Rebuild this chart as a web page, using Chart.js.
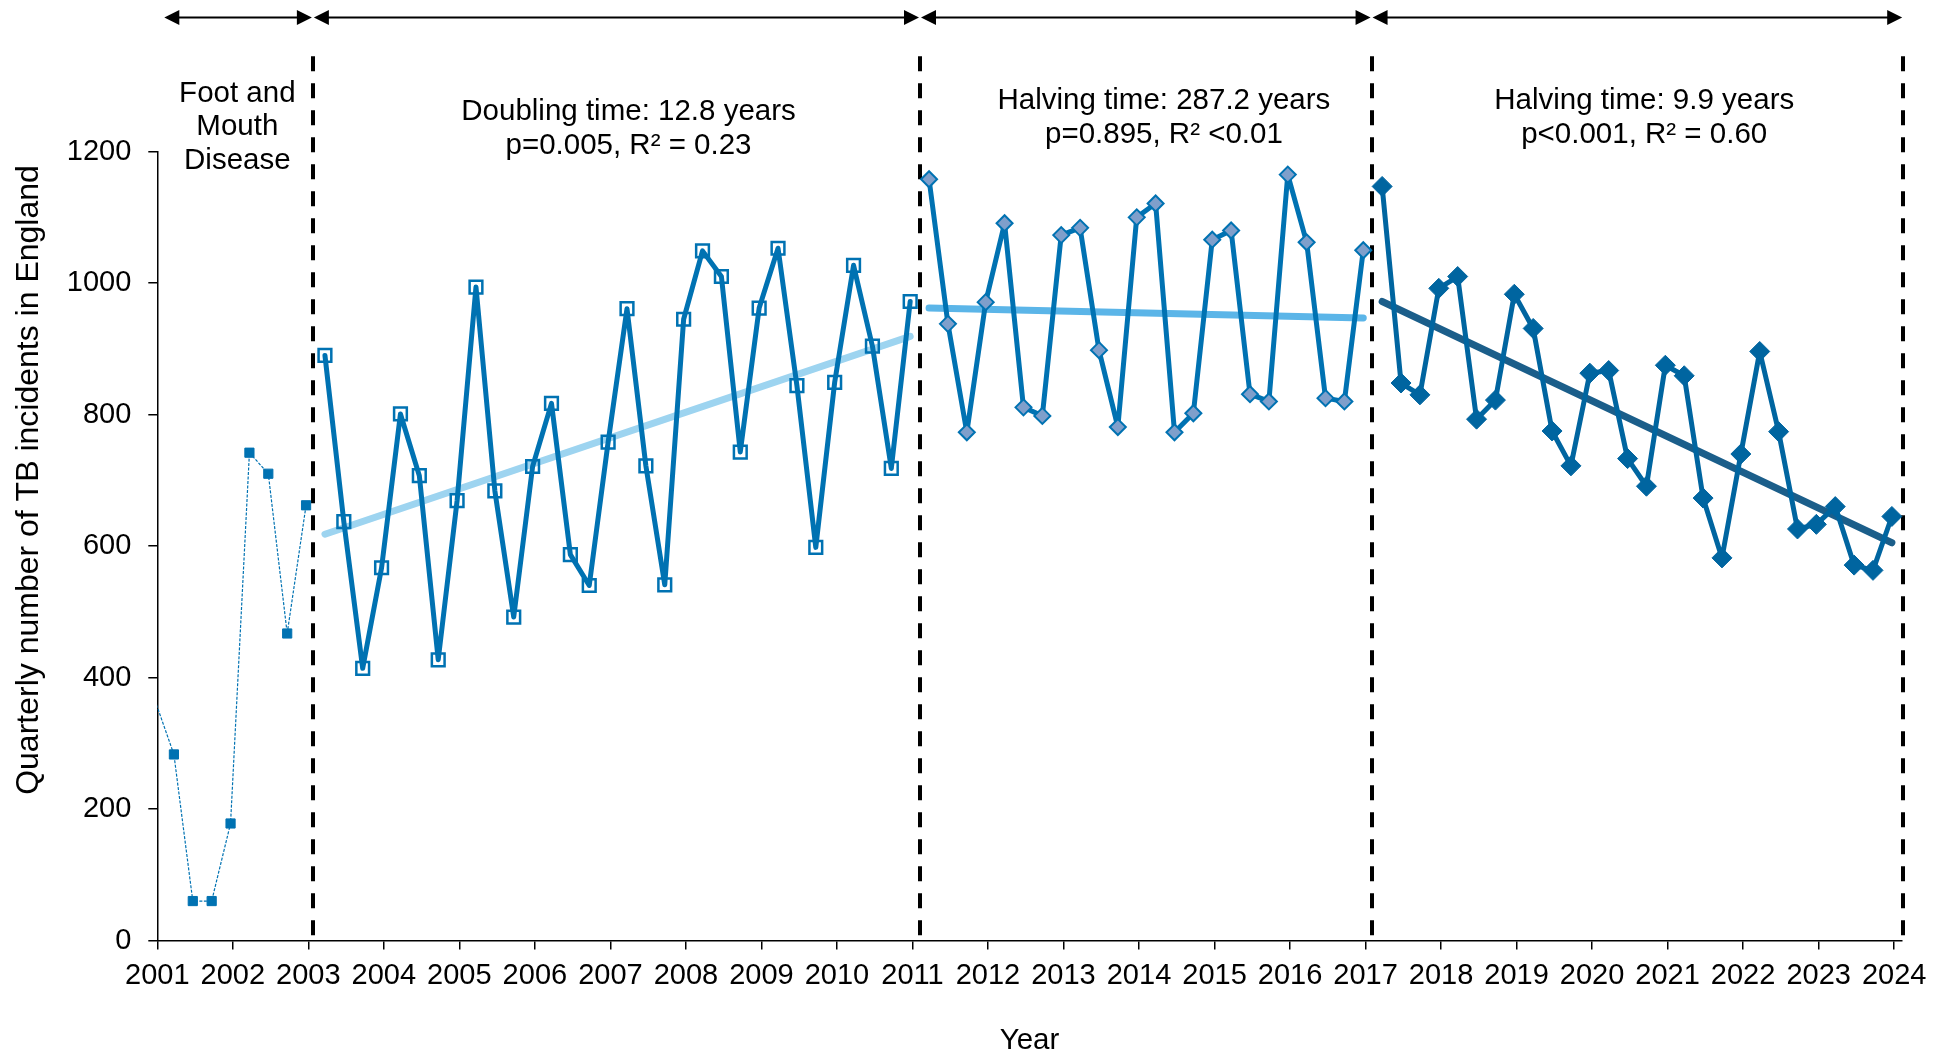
<!DOCTYPE html>
<html>
<head>
<meta charset="utf-8">
<title>Quarterly number of TB incidents in England</title>
<script src="https://cdn.jsdelivr.net/npm/chart.js@4/dist/chart.umd.min.js"></script>
<style>
  html, body { margin: 0; padding: 0; background: #fff; }
  #wrap { width: 1948px; height: 1059px; }
</style>
</head>
<body>
<div id="wrap"><canvas id="grafico" width="1948" height="1059"></canvas></div>
<script>
// eje x: años, eje y: incidentes
const years = [2001, 2002, 2003, 2004, 2005, 2006, 2007, 2008, 2009, 2010, 2011, 2012,
  2013, 2014, 2015, 2016, 2017, 2018, 2019, 2020, 2021, 2022, 2023, 2024];
const yTicks = [0, 200, 400, 600, 800, 1000, 1200];

// valores trimestrales, por periodo
// 2000 T4 - 2002 T4 (fiebre aftosa)
const fmdValues = [365, 283, 60, 60, 178, 742, 710, 467, 662];
// 2003 T1 - 2010 T4
const risingValues = [890, 637, 414, 567, 801, 707, 427, 669, 994, 684, 492, 721,
  817, 587, 540, 758, 961, 722, 541, 945, 1049, 1010, 743, 962, 1053, 844, 598, 849,
  1027, 904, 718, 972];
// 2011 T1 - 2016 T4
const flatValues = [1158, 938, 773, 971, 1091, 811, 798, 1073, 1084, 898, 781, 1100,
  1121, 773, 802, 1066, 1080, 831, 820, 1165, 1062, 825, 820, 1050];
// 2017 T1 - 2023 T4
const fallingValues = [1147, 848, 830, 992, 1010, 793, 822, 983, 931, 775, 722, 863,
  867, 733, 691, 875, 859, 673, 582, 740, 896, 774, 626, 633, 660, 571, 563, 645];

// tendencias (inicio y fin de cada periodo)
const risingTrend = [618, 919];
const flatTrend = [962, 947];
const fallingTrend = [972, 605];

// cortes entre periodos y textos
const periodBreaks = [2003.06, 2011.1, 2017.08, 2024.12];
const arrowStops = [2001.08, 2003.06, 2011.1, 2017.08, 2024.12];
const notes = [
  { x: 2002.06, y: 1288, lines: ['Foot and', 'Mouth', 'Disease'] },
  { x: 2007.24, y: 1260, lines: ['Doubling time: 12.8 years', 'p=0.005, R\u00b2 = 0.23'] },
  { x: 2014.33, y: 1277, lines: ['Halving time: 287.2 years', 'p=0.895, R\u00b2 <0.01'] },
  { x: 2020.69, y: 1277, lines: ['Halving time: 9.9 years', 'p<0.001, R\u00b2 = 0.60'] }
];
const yTitle = 'Quarterly number of TB incidents in England';

// posición de cada trimestre en el eje de años
function quarterPositions(startYear, startQ, n) {
  const xs = [];
  for (let i = 0; i < n; i++) {
    const k = startQ - 1 + i;
    xs.push(startYear + Math.floor(k / 4) + ((k % 4) + 1) * 0.25 - 0.03);
  }
  return xs;
}

function toPoints(xs, values) {
  return values.map((v, i) => ({ x: xs[i], y: v }));
}

const fmdX = quarterPositions(2000, 4, fmdValues.length);
const risingX = quarterPositions(2003, 1, risingValues.length);
const flatX = quarterPositions(2011, 1, flatValues.length);
const fallingX = quarterPositions(2017, 1, fallingValues.length);

const FONT = '"Liberation Sans", Arial, sans-serif';
const LINE_BLUE = '#0072b2';

// líneas discontinuas, flechas y textos
const extrasPlugin = {
  id: 'extras',
  beforeDatasetsDraw(chart) {
    const ctx = chart.ctx;
    const x = chart.scales.x, y = chart.scales.y;
    ctx.save();
    ctx.strokeStyle = '#000';
    ctx.lineWidth = 4;
    ctx.setLineDash([15, 12]);
    periodBreaks.forEach(v => {
      const px = Math.round(x.getPixelForValue(v));
      ctx.beginPath();
      ctx.moveTo(px, y.getPixelForValue(1345));
      ctx.lineTo(px, y.getPixelForValue(0));
      ctx.stroke();
    });
    ctx.restore();
  },
  afterDraw(chart) {
    const ctx = chart.ctx;
    const x = chart.scales.x, y = chart.scales.y;
    ctx.save();
    // flechas
    const ay = Math.round(y.getPixelForValue(1405)) + 0.5;
    ctx.strokeStyle = '#000';
    ctx.fillStyle = '#000';
    ctx.lineWidth = 2;
    for (let i = 0; i < arrowStops.length - 1; i++) {
      const x1 = x.getPixelForValue(arrowStops[i]) + 1;
      const x2 = x.getPixelForValue(arrowStops[i + 1]) - 1;
      ctx.beginPath();
      ctx.moveTo(x1 + 10, ay);
      ctx.lineTo(x2 - 10, ay);
      ctx.stroke();
      ctx.beginPath();
      ctx.moveTo(x1, ay);
      ctx.lineTo(x1 + 15, ay - 7.5);
      ctx.lineTo(x1 + 15, ay + 7.5);
      ctx.closePath();
      ctx.fill();
      ctx.beginPath();
      ctx.moveTo(x2, ay);
      ctx.lineTo(x2 - 15, ay - 7.5);
      ctx.lineTo(x2 - 15, ay + 7.5);
      ctx.closePath();
      ctx.fill();
    }
    // textos
    ctx.font = '29.5px ' + FONT;
    ctx.textAlign = 'center';
    ctx.textBaseline = 'middle';
    notes.forEach(n => {
      const px = x.getPixelForValue(n.x);
      const py = y.getPixelForValue(n.y);
      n.lines.forEach((t, i) => ctx.fillText(t, px, py + i * 33.5));
    });
    // título del eje y
    ctx.font = '32px ' + FONT;
    ctx.translate(29, 480);
    ctx.rotate(-Math.PI / 2);
    ctx.fillText(yTitle, 0, 0);
    ctx.restore();
  }
};

const ctx = document.getElementById('grafico').getContext('2d');
new Chart(ctx, {
  type: 'line',
  data: {
    datasets: [
      {
        data: toPoints(fmdX, fmdValues),
        borderColor: LINE_BLUE,
        borderWidth: 1.2,
        borderDash: [3, 1.5],
        pointStyle: 'rect',
        pointRadius: fmdValues.map((v, i) => i === 0 ? 0 : 6.5),
        pointBackgroundColor: LINE_BLUE,
        pointBorderColor: LINE_BLUE,
        pointBorderWidth: 1,
        clip: 0
      },
      {
        data: toPoints(risingX, risingValues),
        borderColor: LINE_BLUE,
        borderWidth: 5,
        borderJoinStyle: 'round',
        borderCapStyle: 'round',
        pointStyle: 'rect',
        pointRadius: 9,
        pointBackgroundColor: 'rgba(0,0,0,0)',
        pointBorderColor: LINE_BLUE,
        pointBorderWidth: 2.5,
        clip: false
      },
      {
        data: toPoints([risingX[0], risingX[risingX.length - 1]], risingTrend),
        borderColor: '#9dd4f0',
        borderWidth: 7,
        borderCapStyle: 'round',
        pointRadius: 0,
        clip: false
      },
      {
        data: toPoints(flatX, flatValues),
        borderColor: LINE_BLUE,
        borderWidth: 5,
        borderJoinStyle: 'round',
        borderCapStyle: 'round',
        pointStyle: 'rectRot',
        pointRadius: 8,
        pointBackgroundColor: '#7f9fcb',
        pointBorderColor: LINE_BLUE,
        pointBorderWidth: 2,
        clip: false
      },
      {
        data: toPoints([flatX[0], flatX[flatX.length - 1]], flatTrend),
        borderColor: '#5bb5e8',
        borderWidth: 7,
        borderCapStyle: 'round',
        pointRadius: 0,
        clip: false
      },
      {
        data: toPoints(fallingX, fallingValues),
        borderColor: '#0065a0',
        borderWidth: 5,
        borderJoinStyle: 'round',
        borderCapStyle: 'round',
        pointStyle: 'rectRot',
        pointRadius: 10,
        pointBackgroundColor: '#0065a0',
        pointBorderColor: '#0065a0',
        pointBorderWidth: 1,
        clip: false
      },
      {
        data: toPoints([fallingX[0], fallingX[fallingX.length - 1]], fallingTrend),
        borderColor: '#1b5e8a',
        borderWidth: 7,
        borderCapStyle: 'round',
        pointRadius: 0,
        clip: false
      }
    ]
  },
  options: {
    responsive: false,
    animation: false,
    layout: { padding: { top: 151.6, right: 46.3, left: 0, bottom: 0 } },
    plugins: {
      legend: { display: false },
      tooltip: { enabled: false }
    },
    elements: { line: { tension: 0 } },
    scales: {
      x: {
        type: 'linear',
        min: 2001,
        max: 2024.1,
        afterBuildTicks: scale => { scale.ticks = years.map(v => ({ value: v })); },
        afterFit: scale => { scale.height = 118.5; },
        grid: { drawOnChartArea: false, color: '#000', lineWidth: 1.5, tickLength: 9 },
        border: { color: '#000', width: 1.5 },
        ticks: {
          autoSkip: false,
          maxRotation: 0,
          padding: 9,
          color: '#000',
          font: { family: FONT, size: 29 },
          callback: v => String(v)
        },
        title: {
          display: true,
          text: 'Year',
          color: '#000',
          font: { family: FONT, size: 29.5 },
          padding: { top: 0, bottom: 0 }
        }
      },
      y: {
        min: 0,
        max: 1200,
        afterBuildTicks: scale => { scale.ticks = yTicks.map(v => ({ value: v })); },
        afterFit: scale => { scale.width = 157.3; },
        grid: { drawOnChartArea: false, color: '#000', lineWidth: 1.5, tickLength: 9 },
        border: { color: '#000', width: 1.5 },
        ticks: {
          padding: 17,
          color: '#000',
          font: { family: FONT, size: 29 },
          callback: v => String(v)
        }
      }
    }
  },
  plugins: [extrasPlugin]
});
</script>
</body>
</html>
